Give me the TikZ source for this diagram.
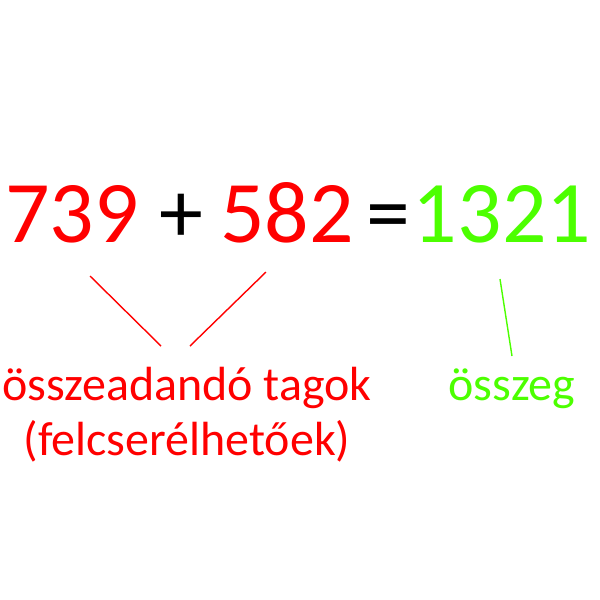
\documentclass[tikz,border=0pt]{standalone}
\usepackage{fontspec}
\setmainfont{Carlito}
\usepackage{tikz}
\usetikzlibrary{positioning, calc}

\definecolor{termred}{RGB}{255,0,0}
\definecolor{sumgreen}{RGB}{76,255,0}

\begin{document}
\begin{tikzpicture}[x=0.02cm, y=-0.02cm,
    bignum/.style={anchor=base, inner sep=0pt, font=\fontsize{50}{60}\selectfont},
    label/.style={anchor=base, inner sep=0pt, font=\fontsize{27.3}{32}\selectfont},
    pointer/.style={line width=0.8pt}]
            \useasboundingbox (0,0) rectangle (600,600);

            % Equation
            \node[bignum, termred] (a) at (72,242) {739};
            \node[bignum] (plus) at (181,242) {+};
            \node[bignum, termred] (b) at (287,242) {582};
            \node[bignum] (eq) at (388,242) {=};
            \node[bignum, sumgreen] (sum) at (502,242) {1321};

            % Labels
            \node[label, termred] (terms) at (187,400) {összeadandó tagok};
            \node[label, termred] (comm) at (187,455) {(felcserélhetőek)};
            \node[label, sumgreen] (sumlbl) at (512,400) {összeg};

            % Pointer ends
            \coordinate (a1) at (90,276);
            \coordinate (a2) at (161,346);
            \coordinate (b1) at (266,272);
            \coordinate (b2) at (190,346);
            \coordinate (s1) at (500,279);
            \coordinate (s2) at (512,356);

            \draw[pointer, termred] (a1) -- (a2);
            \draw[pointer, termred] (b1) -- (b2);
            \draw[pointer, sumgreen] (s1) -- (s2);
        \end{tikzpicture}
\end{document}
